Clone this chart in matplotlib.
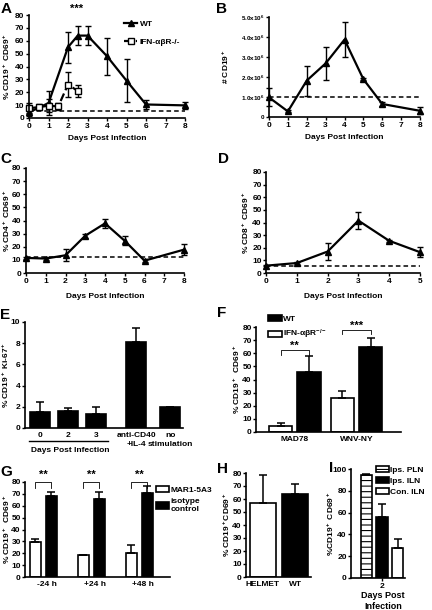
import matplotlib
matplotlib.use("Agg")
import matplotlib.pyplot as plt
from matplotlib.patches import Patch
from matplotlib.lines import Line2D

plt.rcParams['font.family'] = ['Liberation Sans', 'DejaVu Sans']
plt.rcParams['font.weight'] = 'bold'
plt.rcParams['axes.labelweight'] = 'bold'
plt.rcParams['font.size'] = 6
plt.rcParams['mathtext.fontset'] = 'custom'
plt.rcParams['mathtext.rm'] = 'Liberation Sans:bold'
plt.rcParams['mathtext.bf'] = 'Liberation Sans:bold'
plt.rcParams['mathtext.it'] = 'Liberation Sans:bold'
plt.rcParams['mathtext.default'] = 'rm'
plt.rcParams['axes.linewidth'] = 1.2
plt.rcParams['hatch.linewidth'] = 0.8

# --- Daten ---
# A
tage_a = [0, 1, 2, 2.5, 3, 4, 5, 6, 8]
wt_a = [4.4, 11.6, 55, 64, 64, 48, 29, 10.5, 9.8]
wt_a_err = [3, 9, 12, 7.5, 7.5, 14.5, 16.5, 3.5, 2.5]
tage_ifn = [0, 0.5, 1, 1.5, 2, 2.5]
ifn_a = [7.5, 8.5, 9.5, 9, 26, 21]
ifn_a_err = [4, 2, 5, 3, 10, 5]
basis_a = 5.7
# B
tage_b = [0, 1, 2, 3, 4, 5, 6, 8]
cd19_b = [0.98e6, 0.28e6, 1.82e6, 2.68e6, 3.87e6, 1.89e6, 0.65e6, 0.31e6]
cd19_b_err = [0.45e6, 0.05e6, 0.75e6, 0.82e6, 0.88e6, 0.05e6, 0.12e6, 0.18e6]
basis_b = 1.0e6
b_ticks = [0, 1e6, 2e6, 3e6, 4e6, 5e6]
b_ticklabels = ["0", "1.0x10$^6$", "2.0x10$^6$", "3.0x10$^6$", "4.0x10$^6$", "5.0x10$^6$"]
# C
tage_c = [0, 1, 2, 3, 4, 5, 6, 8]
cd4_c = [11.5, 11, 13.5, 28.4, 37.8, 24.5, 9.4, 17.8]
cd4_c_err = [1, 1, 4.5, 1.5, 3.5, 3.5, 1, 4]
basis_c = 12.2
# D
tage_d = [0, 1, 2, 3, 4, 5]
cd8_d = [5.8, 7.9, 17, 41.5, 25.5, 16.5]
cd8_d_err = [0.5, 1, 6.5, 7, 1, 3.7]
basis_d = 5.2
# E
e_labels = ["0", "2", "3", "anti-CD40\n+IL-4", "no\nstimulation"]
ki67_e = [1.52, 1.6, 1.36, 8.07, 1.99]
ki67_e_err = [0.95, 0.3, 0.64, 1.36, 0.03]
# F
viren = ["MAD78", "WNV-NY"]
wt_f = [45.7, 64.5]
wt_f_err = [12, 7]
ifn_f = [4.8, 25.9]
ifn_f_err = [2, 5]
# G
zeit_g = ["-24 h", "+24 h", "+48 h"]
mar1_g = [29.1, 18.4, 20.6]
mar1_g_err = [2.5, 0.5, 6.2]
iso_g = [68.4, 65.5, 70.6]
iso_g_err = [3, 6.5, 6.2]
# H
gruppen_h = ["HELMET", "WT"]
werte_h = [57.3, 64.2]
werte_h_err = [21.4, 7.1]
# I
knoten_i = ["Ips. PLN", "Ips. ILN", "Con. ILN"]
werte_i = [94.5, 55.8, 27.4]
werte_i_err = [1.2, 12, 8.2]

W, H = 432, 610
fig = plt.figure(figsize=(W / 100, H / 100), dpi=100)


def achse(links, oben, rechts, unten):
    ax = fig.add_axes([links / W, 1 - unten / H, (rechts - links) / W, (unten - oben) / H])
    ax.spines['top'].set_visible(False)
    ax.spines['right'].set_visible(False)
    ax.tick_params(direction='out', length=2.5, width=1.0, labelsize=6, pad=1)
    ax.set_facecolor('none')
    ax._box = (links, oben, rechts, unten)
    return ax


def ylab(ax, text, xpix):
    l, o, r, u = ax._box
    ax.set_ylabel(text, fontsize=6, va='center')
    ax.yaxis.set_label_coords((xpix - l) / (r - l), 0.5)


def xlab(ax, text, ypix):
    l, o, r, u = ax._box
    ax.set_xlabel(text, fontsize=6, va='center')
    ax.xaxis.set_label_coords(0.5, (u - ypix) / (u - o))


def fx(px):
    return px / W


def fy(py):
    return 1 - py / H


def buchstabe(text, x, y):
    fig.text(fx(x), fy(y), text, fontsize=11, fontweight='bold', va='top', ha='left')


def linie(ax, x, y, err, marker='^', ls='-', mfc='black', label=None):
    ax.errorbar(x, y, yerr=err, color='black', lw=1.6, marker=marker, ms=4.5,
                mfc=mfc, mec='black', mew=1.0, ls=ls, capsize=2.5, elinewidth=1.0,
                capthick=1.0, clip_on=False, label=label)


strich = (0, (3, 2))

# A
ax = achse(29, 15, 185, 118)
linie(ax, tage_a, wt_a, wt_a_err, label="WT")
linie(ax, tage_ifn, ifn_a, ifn_a_err, marker='s', ls='--', mfc='white', label="IFN-αβR-/-")
ax.axhline(basis_a, color='black', lw=1.1, ls=strich)
ax.set_xlim(0, 8)
ax.set_ylim(0, 80)
ax.set_xticks(range(9))
ax.set_yticks(range(0, 81, 10))
ax.text(2.45, 81, "***", ha='center', va='bottom', fontsize=8)
ylab(ax, "% CD19$^+$ CD69$^+$", 7)
xlab(ax, "Days Post Infection", 138)
hd = [Line2D([], [], color='black', lw=1.6, marker='^', ms=4.5),
      Line2D([], [], color='black', lw=1.6, ls='--', marker='s', ms=4.5, mfc='white')]
ax.legend(hd, ["WT", "IFN-αβR-/-"], loc='upper left', bbox_to_anchor=(fx(124), fy(20)),
          bbox_transform=fig.transFigure, frameon=False, fontsize=6, handlelength=1.6,
          handletextpad=0.3, labelspacing=1.2, borderpad=0, borderaxespad=0)
buchstabe("A", 1, 2)

# B
ax = achse(269, 17, 420, 117)
linie(ax, tage_b, cd19_b, cd19_b_err)
ax.axhline(basis_b, color='black', lw=1.1, ls=strich)
ax.set_xlim(0, 8)
ax.set_ylim(0, 5e6)
ax.set_xticks(range(9))
ax.set_yticks(b_ticks)
ax.set_yticklabels(b_ticklabels, fontsize=4.5)
ylab(ax, "# CD19$^+$", 226)
xlab(ax, "Days Post Infection", 137)
buchstabe("B", 216, 2)

# C
ax = achse(26, 168, 184, 273)
linie(ax, tage_c, cd4_c, cd4_c_err)
ax.axhline(basis_c, color='black', lw=1.1, ls=strich)
ax.set_xlim(0, 8)
ax.set_ylim(0, 80)
ax.set_xticks(range(9))
ax.set_yticks(range(0, 81, 10))
ylab(ax, "% CD4$^+$ CD69$^+$", 7)
xlab(ax, "Days Post Infection", 296)
buchstabe("C", 0, 152)

# D
ax = achse(266, 172, 420, 273)
linie(ax, tage_d, cd8_d, cd8_d_err)
ax.axhline(basis_d, color='black', lw=1.1, ls=strich)
ax.set_xlim(0, 5)
ax.set_ylim(0, 80)
ax.set_xticks(range(6))
ax.set_yticks(range(0, 81, 10))
ax.tick_params(axis='y', pad=0.5)
ylab(ax, "% CD8$^+$ CD69$^+$", 246)
xlab(ax, "Days Post Infection", 296)
buchstabe("D", 218, 152)

balken = dict(edgecolor='black', linewidth=1.2, capsize=3,
              error_kw=dict(elinewidth=1.1, capthick=1.1, ecolor='black'))

# E
ax = achse(25, 322, 183, 428)
pos_e = [0, 1, 2, 3.43, 4.64]
ax.bar(pos_e, ki67_e, width=0.72, color='black', yerr=[[0] * 5, ki67_e_err], **balken)
ax.set_xlim(-0.54, 5.1)
ax.set_ylim(0, 10)
ax.set_yticks(range(0, 11, 2))
ax.set_xticks(pos_e)
ax.set_xticklabels(e_labels, linespacing=1.3)
ax.tick_params(axis='x', length=0, pad=3)
ylab(ax, "% CD19$^+$ Ki-67$^+$", 6)
fig.add_artist(Line2D([fx(29), fx(108)], [fy(441), fy(441)], color='black', lw=1.0))
fig.text(fx(70), fy(451), "Days Post Infection", ha='center', va='center', fontsize=6)
buchstabe("E", 0, 308)

# F
ax = achse(256, 327, 401, 432)
gx = [0, 1]
ax.bar([g - 0.23 for g in gx], ifn_f, width=0.38, color='white',
       yerr=[[0, 0], ifn_f_err], label="IFN-αβR$^{-/-}$", **balken)
ax.bar([g + 0.23 for g in gx], wt_f, width=0.38, color='black',
       yerr=[[0, 0], wt_f_err], label="WT", **balken)
ax.set_xlim(-0.63, 1.72)
ax.set_ylim(0, 80)
ax.set_yticks(range(0, 81, 10))
ax.set_xticks(gx)
ax.set_xticklabels(viren)
ax.tick_params(axis='x', length=0, pad=3)
ax.tick_params(axis='y', pad=0.5)
for g, lo, hi, st in [(0, 59, 62.7, "**"), (1, 74.6, 78, "***")]:
    ax.plot([g - 0.23, g - 0.23, g + 0.23, g + 0.23], [lo, hi, hi, lo], color='black', lw=0.6,
            clip_on=False)
    ax.text(g, hi - 1, st, ha='center', va='bottom', fontsize=8)
ylab(ax, "% CD19$^+$  CD69$^+$", 237)
hd = [Patch(facecolor='black', edgecolor='black', lw=1.2),
      Patch(facecolor='white', edgecolor='black', lw=1.2)]
ax.legend(hd, ["WT", "IFN-αβR$^{-/-}$"], loc='upper left', bbox_to_anchor=(fx(268), fy(315)),
          bbox_transform=fig.transFigure, frameon=False, fontsize=6, handlelength=1.7,
          handleheight=0.8, handletextpad=0.15, labelspacing=0.6, borderpad=0, borderaxespad=0)
buchstabe("F", 217, 306)

# G
ax = achse(25, 482, 170, 577)
gx = [0, 1, 2]
ax.bar([g - 0.167 for g in gx], mar1_g, width=0.23, color='white',
       yerr=[[0] * 3, mar1_g_err], **balken)
ax.bar([g + 0.167 for g in gx], iso_g, width=0.23, color='black',
       yerr=[[0] * 3, iso_g_err], **balken)
ax.set_xlim(-0.385, 2.64)
ax.set_ylim(0, 80)
ax.set_yticks(range(0, 81, 10))
ax.set_xticks([g + 0.07 for g in gx])
ax.set_xticklabels(zeit_g)
ax.tick_params(axis='x', length=0, pad=3)
ax.tick_params(axis='y', pad=0.5)
for g in gx:
    ax.plot([g - 0.167, g - 0.167, g + 0.167, g + 0.167], [75, 80, 80, 75], color='black',
            lw=0.6, clip_on=False)
    ax.text(g, 81.5, "**", ha='center', va='bottom', fontsize=8)
ylab(ax, "% CD19$^+$  CD69$^+$", 6.5)
hd = [Patch(facecolor='white', edgecolor='black', lw=1.2),
      Patch(facecolor='black', edgecolor='black', lw=1.2)]
ax.legend(hd, ["MAR1-5A3", "isotype\ncontrol"], loc='upper left', bbox_to_anchor=(fx(156), fy(486)),
          bbox_transform=fig.transFigure, frameon=False, fontsize=6, handlelength=1.5,
          handleheight=0.8, handletextpad=0.2, labelspacing=0.5, borderpad=0, borderaxespad=0)
buchstabe("G", 0, 465)

# H
ax = achse(246, 473, 311, 577)
ax.bar([0, 1], werte_h, width=0.84, color=['white', 'black'],
       yerr=[[0, 0], werte_h_err], **balken)
ax.set_xlim(-0.53, 1.5)
ax.set_ylim(0, 80)
ax.set_yticks(range(0, 81, 10))
ax.set_xticks([0, 1])
ax.set_xticklabels(gruppen_h)
ax.tick_params(axis='x', length=0, pad=3)
ax.tick_params(axis='y', pad=0.5)
ylab(ax, "% CD19$^+$CD69$^+$", 227)
buchstabe("H", 217, 462)

# I
ax = achse(351, 469, 405, 578)
ax.bar([0, 1, 2], werte_i, width=0.69, color=['white', 'black', 'white'],
       hatch=['---', None, None], yerr=[[0] * 3, werte_i_err], **balken)
ax.set_xlim(-0.94, 2.44)
ax.set_ylim(0, 100)
ax.set_yticks(range(0, 101, 20))
ax.set_xticks([1])
ax.set_xticklabels(["2"])
ax.tick_params(axis='x', length=2.5, pad=1)
ax.tick_params(axis='y', pad=0.5)
ylab(ax, "%CD19$^+$ CD69$^+$", 331)
fig.text(fx(383), fy(601), "Days Post\nInfection", ha='center', va='center', fontsize=6.5,
         linespacing=1.2)
hd = [Patch(facecolor='white', edgecolor='black', lw=1.2, hatch='---'),
      Patch(facecolor='black', edgecolor='black', lw=1.2),
      Patch(facecolor='white', edgecolor='black', lw=1.2)]
ax.legend(hd, knoten_i, loc='upper left', bbox_to_anchor=(fx(376), fy(466)),
          bbox_transform=fig.transFigure, frameon=False, fontsize=6, handlelength=1.5,
          handleheight=0.75, handletextpad=0.2, labelspacing=0.35, borderpad=0, borderaxespad=0)
buchstabe("I", 329, 461)

fig.savefig("out.png", dpi=100)
